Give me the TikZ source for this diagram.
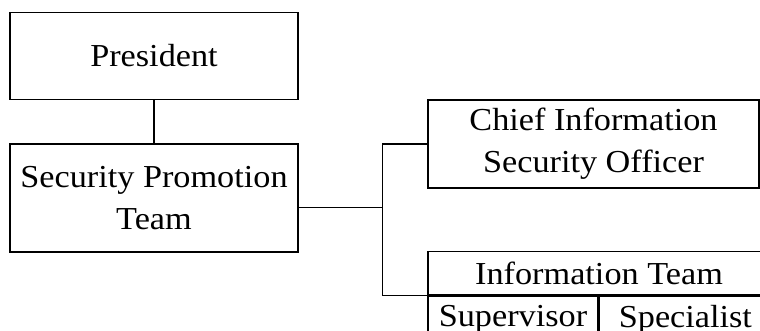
\documentclass[tikz,border=0pt]{standalone}
\usepackage{fontspec}
\setmainfont{Liberation Serif}[FakeStretch=1.07]
\begin{document}
\begin{tikzpicture}[x=1pt,y=-1pt,
  unit/.style={draw, line width=1.4pt, rectangle, inner sep=0pt, align=center,
    font=\fontsize{32}{42}\selectfont},
  link/.style={line width=1.4pt}]
\useasboundingbox (0,0) rectangle (760,331);
\clip (0,0) rectangle (760,331);

% left column
\node[unit, minimum width=288, minimum height=87] (pres) at (154,56) {President};
\node[unit, minimum width=288, minimum height=108] (spt) at (154,198) {Security Promotion\\Team};

% right column
\node[unit, minimum width=331, minimum height=88] (ciso) at (593.5,144) {Chief Information\\Security Officer};
\node[unit, minimum width=342, minimum height=43.5] (info) at (599,273.3) {Information Team};
\node[unit, minimum width=170, minimum height=46, anchor=north west] (sup) at (info.south west) {Supervisor};
\node[unit, minimum width=172, minimum height=46, anchor=north west] (spec) at (sup.north east) {Specialist};

% connectors
\coordinate (bus) at (382.5,207.7);
\draw[link] (pres.south) -- (spt.north);
\draw[link] (spt.east |- bus) -- (bus);
\draw[link] (ciso.west) -| (bus) |- (info.south west);
\end{tikzpicture}
\end{document}
